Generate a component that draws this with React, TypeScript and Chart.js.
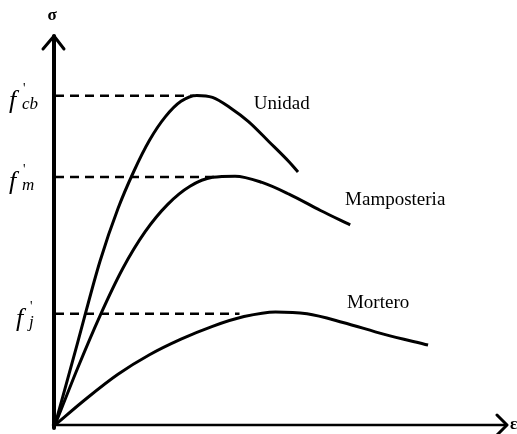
import React, { useEffect, useRef } from "react";
import { Chart, registerables } from "chart.js";

Chart.register(...registerables);

// Strain (x) and stress (y) readings, arbitrary units (0..10 each axis)
const unidadX = [0, 0.5, 1.0, 1.4, 1.75, 2.1, 2.45, 2.8, 3.15, 3.5, 3.9, 4.3, 4.75, 5.2, 5.4];
const unidadY = [0, 2.1, 4.2, 5.55, 6.5, 7.3, 7.9, 8.3, 8.45, 8.4, 8.13, 7.78, 7.27, 6.75, 6.49];

const mampX = [0, 0.5, 1.0, 1.5, 2.0, 2.5, 3.0, 3.5, 4.0, 4.6, 5.2, 5.9, 6.56];
const mampY = [0, 1.45, 2.8, 4.0, 4.95, 5.65, 6.12, 6.35, 6.38, 6.22, 5.92, 5.5, 5.13];

const morteroX = [0, 0.7, 1.4, 2.1, 2.8, 3.5, 4.2, 4.9, 5.6, 6.4, 7.3, 8.29];
const morteroY = [0, 0.68, 1.3, 1.8, 2.2, 2.53, 2.78, 2.9, 2.85, 2.63, 2.33, 2.05];

// Peak stress levels and where their dashed guides end
const peakLabels = ["cb", "m", "j"];
const peakLevels = [8.44, 6.36, 2.85];
const peakEnds = [3.1, 3.6, 4.1];

// Curve names and their label anchors (data units)
const curveNames = ["Unidad", "Mamposteria", "Mortero"];
const curveLabelX = [5.04, 7.56, 7.18];
const curveLabelY = [8.23, 5.77, 3.13];

const X_MAX = 10;
const Y_MAX = 10;

const zip = (xs: number[], ys: number[]) => xs.map((x, i) => ({ x, y: ys[i] }));

const SERIF = '"Liberation Serif", "DejaVu Serif", serif';

const decorPlugin = {
  id: "decor",
  afterDraw(chart: any) {
    const { ctx, chartArea, scales } = chart;
    const xs = scales.x;
    const ys = scales.y;
    const ox = chartArea.left;
    const oy = chartArea.bottom;
    ctx.save();
    ctx.strokeStyle = "#000";
    ctx.fillStyle = "#000";
    ctx.lineCap = "round";
    ctx.lineJoin = "round";

    // y axis
    ctx.lineWidth = 4;
    ctx.beginPath();
    ctx.moveTo(ox - 1, oy + 3);
    ctx.lineTo(ox - 1, chartArea.top + 1);
    ctx.stroke();
    ctx.lineWidth = 3;
    ctx.beginPath();
    ctx.moveTo(ox - 12, chartArea.top + 14);
    ctx.lineTo(ox - 1, chartArea.top + 1);
    ctx.lineTo(ox + 9, chartArea.top + 14);
    ctx.stroke();

    // x axis
    ctx.lineWidth = 2.5;
    ctx.beginPath();
    ctx.moveTo(ox - 2, oy);
    ctx.lineTo(chartArea.right + 1, oy);
    ctx.stroke();
    ctx.lineWidth = 3;
    ctx.beginPath();
    ctx.moveTo(chartArea.right - 8, oy - 10);
    ctx.lineTo(chartArea.right + 2, oy);
    ctx.lineTo(chartArea.right - 8, oy + 10);
    ctx.stroke();

    // axis symbols
    ctx.font = `bold 17px ${SERIF}`;
    ctx.textAlign = "center";
    ctx.textBaseline = "middle";
    ctx.fillText("σ", ox - 3, chartArea.top - 19);
    ctx.textAlign = "left";
    ctx.fillText("ε", chartArea.right + 5, oy);

    // peak labels f'cb, f'm, f'j
    peakLabels.forEach((sub, i) => {
      const py = ys.getPixelForValue(peakLevels[i]);
      const baseY = py + 12;
      ctx.textBaseline = "alphabetic";
      ctx.font = `italic 26px ${SERIF}`;
      const fx = i === 2 ? 16 : 9;
      ctx.fillText("f", fx, baseY);
      ctx.font = `14px ${SERIF}`;
      ctx.fillText("'", fx + 14, baseY - 15);
      ctx.font = `italic 17px ${SERIF}`;
      ctx.fillText(sub, fx + 13, baseY + 1);
    });

    // curve names
    ctx.font = `19px ${SERIF}`;
    ctx.textAlign = "center";
    ctx.textBaseline = "middle";
    curveNames.forEach((name, i) => {
      ctx.fillText(name, xs.getPixelForValue(curveLabelX[i]), ys.getPixelForValue(curveLabelY[i]));
    });
    ctx.restore();
  },
};

export default function App() {
  const ref = useRef<HTMLCanvasElement | null>(null);
  useEffect(() => {
    if (!ref.current) return;
    const curve = (data: { x: number; y: number }[]) => ({
      data,
      borderColor: "#000",
      borderWidth: 3,
      pointRadius: 0,
      fill: false,
      cubicInterpolationMode: "monotone" as const,
    });
    const guide = (i: number) => ({
      data: [
        { x: 0, y: peakLevels[i] },
        { x: peakEnds[i], y: peakLevels[i] },
      ],
      borderColor: "#000",
      borderWidth: 2.5,
      borderDash: [9, 6],
      pointRadius: 0,
      fill: false,
    });
    const chart = new Chart(ref.current, {
      type: "line",
      data: {
        datasets: [
          guide(0),
          guide(1),
          guide(2),
          curve(zip(unidadX, unidadY)),
          curve(zip(mampX, mampY)),
          curve(zip(morteroX, morteroY)),
        ] as any,
      },
      options: {
        animation: false,
        responsive: false,
        maintainAspectRatio: false,
        layout: { padding: { left: 55, right: 12, top: 35, bottom: 9 } },
        plugins: { legend: { display: false }, tooltip: { enabled: false } },
        scales: {
          x: { type: "linear", min: 0, max: X_MAX, display: false },
          y: { type: "linear", min: 0, max: Y_MAX, display: false },
        },
      },
      plugins: [decorPlugin],
    });
    return () => chart.destroy();
  }, []);
  return (
    <div style={{ position: "fixed", left: 0, top: 0, width: 517, height: 434, background: "#fff" }}>
      <canvas ref={ref} width={517} height={434} style={{ width: 517, height: 434 }} />
    </div>
  );
}
